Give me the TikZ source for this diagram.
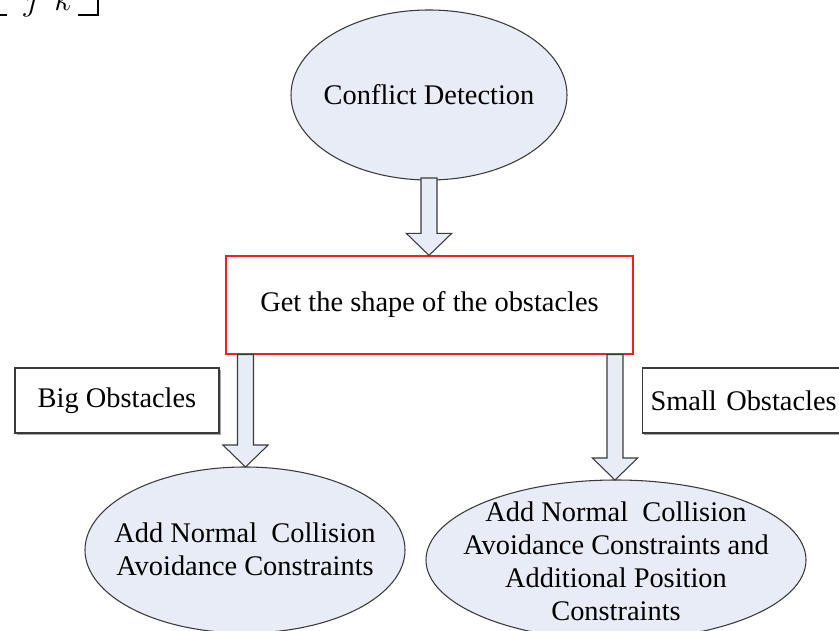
\documentclass[tikz,border=0pt]{standalone}
\usepackage{fontspec}
\setmainfont{Liberation Serif}
\usetikzlibrary{shapes.geometric,calc}

\definecolor{paleblue}{HTML}{E8ECF6}
\definecolor{edgegrey}{HTML}{3A3A3A}
\definecolor{boxred}{HTML}{F02020}

\tikzset{
  bubble/.style={ellipse, draw=edgegrey, line width=0.8pt, fill=paleblue, inner sep=0pt},
  caption/.style={inner sep=0pt, align=center, font=\fontsize{21.3}{24.8}\selectfont},
  stage/.style={rectangle, draw=boxred, line width=0.9pt, fill=white,
    inner sep=0pt, font=\fontsize{21.3}{24.8}\selectfont},
  tag/.style={rectangle, draw=edgegrey, line width=0.8pt, fill=white,
    inner sep=0pt, font=\fontsize{21.3}{24.8}\selectfont},
  tagshadow/.style={fill=gray!70, draw=none},
  fatarrow/.style={draw=edgegrey, line width=0.8pt, fill=paleblue, line join=miter},
}

% block arrow from point #1 down to point #2 (vertical)
\newcommand\blockarrow[2]{%
  \path[fatarrow] let \p1=(#1), \p2=(#2) in
    (\x1-6pt,\y1) -- (\x1+6pt,\y1) -- (\x1+6pt,\y2+16.5pt) --
    (\x1+17pt,\y2+16.5pt) -- (\x1,\y2) -- (\x1-17pt,\y2+16.5pt) --
    (\x1-6pt,\y2+16.5pt) -- cycle;}

\begin{document}
\begin{tikzpicture}[x=0.75pt,y=-0.75pt]
\useasboundingbox (0,0) rectangle (839,631);
\begin{scope}
\clip (0,0) rectangle (839,631);

% fragment of a bracketed expression at the top edge
\draw[line width=1.2pt] (0,15) -- (7,15);
\draw[line width=1.2pt] (78,15) -- (98,15) -- (98,-2);
\node[font=\fontsize{24}{26}\selectfont, inner sep=0pt, anchor=base] (frag) at (48,11) {$\jmath\;\; k$};

% main flow
\node[bubble, minimum width=207pt, minimum height=127.5pt] (detect) at (429,95) {};
\node[caption] (detecttext) at (detect.center) {Conflict Detection};
\node[stage, minimum width=305.25pt, minimum height=73.5pt] (shape) at (429.5,305) {Get the shape of the obstacles};

\node[bubble, minimum width=240pt, minimum height=124.5pt] (normal) at (245,550) {};
\node[caption] (normaltext) at (245,549) {Add Normal\ \ Collision\\Avoidance Constraints};
\node[bubble, minimum width=285pt, minimum height=120pt] (extra) at (616,560) {};
\node[caption] (extratext) at (616,561)
  {Add Normal\ \ Collision\\Avoidance Constraints and\\Additional Position\\Constraints};

% labels with a small drop shadow
\fill[tagshadow] (17,370) rectangle (221,435);
\node[tag, minimum width=153pt, minimum height=48.75pt] (big) at (117,400.5) {Big Obstacles};
\fill[tagshadow] (644,370) rectangle (852,435);
\node[tag, minimum width=156pt, minimum height=48.75pt, anchor=west, text width=150pt, align=left] (small) at (642,400.5)
  {\hspace*{3pt}Small Obstacles};

% block arrows
\coordinate (a1s) at (429,178);
\coordinate (a1e) at (shape.north);
\blockarrow{a1s}{a1e}
\coordinate (a2e) at (245.5,467);
\coordinate (a2s) at (a2e |- shape.south);
\blockarrow{a2s}{a2e}
\coordinate (a3e) at (615,480);
\coordinate (a3s) at (a3e |- shape.south);
\blockarrow{a3s}{a3e}
\end{scope}
\end{tikzpicture}
\end{document}
